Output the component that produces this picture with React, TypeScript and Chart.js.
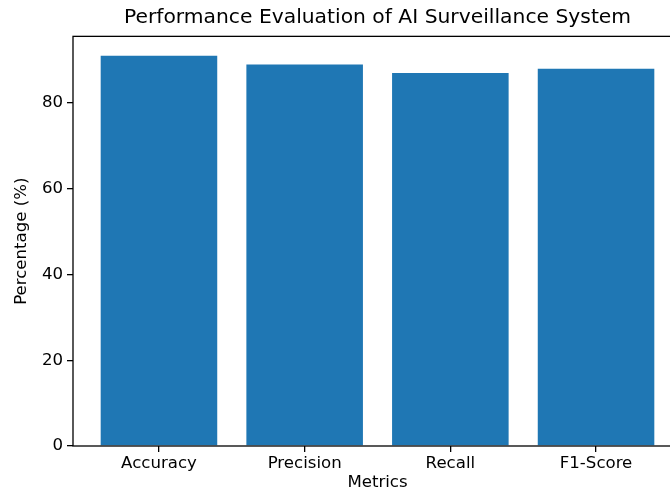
import React, { useEffect, useRef } from "react";
import { Chart, registerables } from "chart.js";
Chart.register(...registerables);

const categories = ["Accuracy", "Precision", "Recall", "F1-Score"];
const values = [91, 89, 87, 88];
const yTicks = [0, 20, 40, 60, 80];
const titleText = "Performance Evaluation of AI Surveillance System";
const xLabel = "Metrics";
const yLabel = "Percentage (%)";

export default function App() {
  const ref = useRef<HTMLCanvasElement>(null);
  useEffect(() => {
    const n = categories.length;
    const span = n - 1 + 0.8;
    const xMin = -0.4 - 0.05 * span;
    const xMax = n - 1 + 0.4 + 0.05 * span;
    const yMax = Math.max(...values) * 1.05;
    const family = "'DejaVu Sans', sans-serif";
    const font = { family, size: 16.6 };
    const spines = {
      id: "spines",
      afterDatasetsDraw(chart: any) {
        const { ctx, chartArea: a } = chart;
        ctx.save();
        ctx.strokeStyle = "#000";
        ctx.lineWidth = 1.3;
        ctx.strokeRect(a.left, a.top, a.right - a.left, a.bottom - a.top);
        ctx.restore();
      },
    };
    const chart = new Chart(ref.current!, {
      type: "bar",
      data: {
        datasets: [
          {
            data: values.map((v, i) => ({ x: i, y: v })),
            backgroundColor: "#1f77b4",
            borderWidth: 0,
            barPercentage: 0.8,
            categoryPercentage: 1,
          },
        ],
      },
      options: {
        animation: false,
        responsive: false,
        devicePixelRatio: 1,
        layout: { padding: { left: 0, right: 18, top: 0, bottom: 0 } },
        plugins: {
          legend: { display: false },
          tooltip: { enabled: false },
          title: {
            display: true,
            text: titleText,
            fullSize: false,
            color: "#000",
            font: { family, size: 20.3, weight: "normal" },
            padding: { top: 6, bottom: 6 },
          },
        },
        scales: {
          x: {
            type: "linear",
            min: xMin,
            max: xMax,
            offset: false,
            afterFit(scale: any) {
              scale.height = 47;
            },
            afterBuildTicks(scale: any) {
              scale.ticks = categories.map((_, i) => ({ value: i }));
            },
            ticks: {
              color: "#000",
              font,
              padding: 2,
              maxRotation: 0,
              autoSkip: false,
              callback: (v: any) => categories[Math.round(Number(v))] ?? "",
            },
            grid: {
              offset: false,
              drawOnChartArea: false,
              drawTicks: true,
              tickLength: 6,
              color: "#000",
              lineWidth: 1.3,
            },
            border: { display: false },
            title: {
              display: true,
              text: xLabel,
              color: "#000",
              font,
              padding: { top: 0, bottom: 0 },
            },
          },
          y: {
            type: "linear",
            min: 0,
            max: yMax,
            afterFit(scale: any) {
              scale.width = 73;
            },
            afterBuildTicks(scale: any) {
              scale.ticks = yTicks.map((v) => ({ value: v }));
            },
            ticks: {
              color: "#000",
              font,
              padding: 4,
              callback: (v: any) => String(v),
            },
            grid: {
              drawOnChartArea: false,
              drawTicks: true,
              tickLength: 6,
              color: "#000",
              lineWidth: 1.3,
            },
            border: { display: false },
            title: {
              display: true,
              text: yLabel,
              color: "#000",
              font,
              padding: { top: 12, bottom: 0 },
            },
          },
        },
      },
      plugins: [spines],
    } as any);
    return () => chart.destroy();
  }, []);
  return (
    <div
      style={{
        position: "fixed",
        left: 0,
        top: 0,
        width: 670,
        height: 493,
        overflow: "hidden",
        background: "#fff",
      }}
    >
      <canvas ref={ref} width={700} height={493} style={{ display: "block" }} />
    </div>
  );
}
